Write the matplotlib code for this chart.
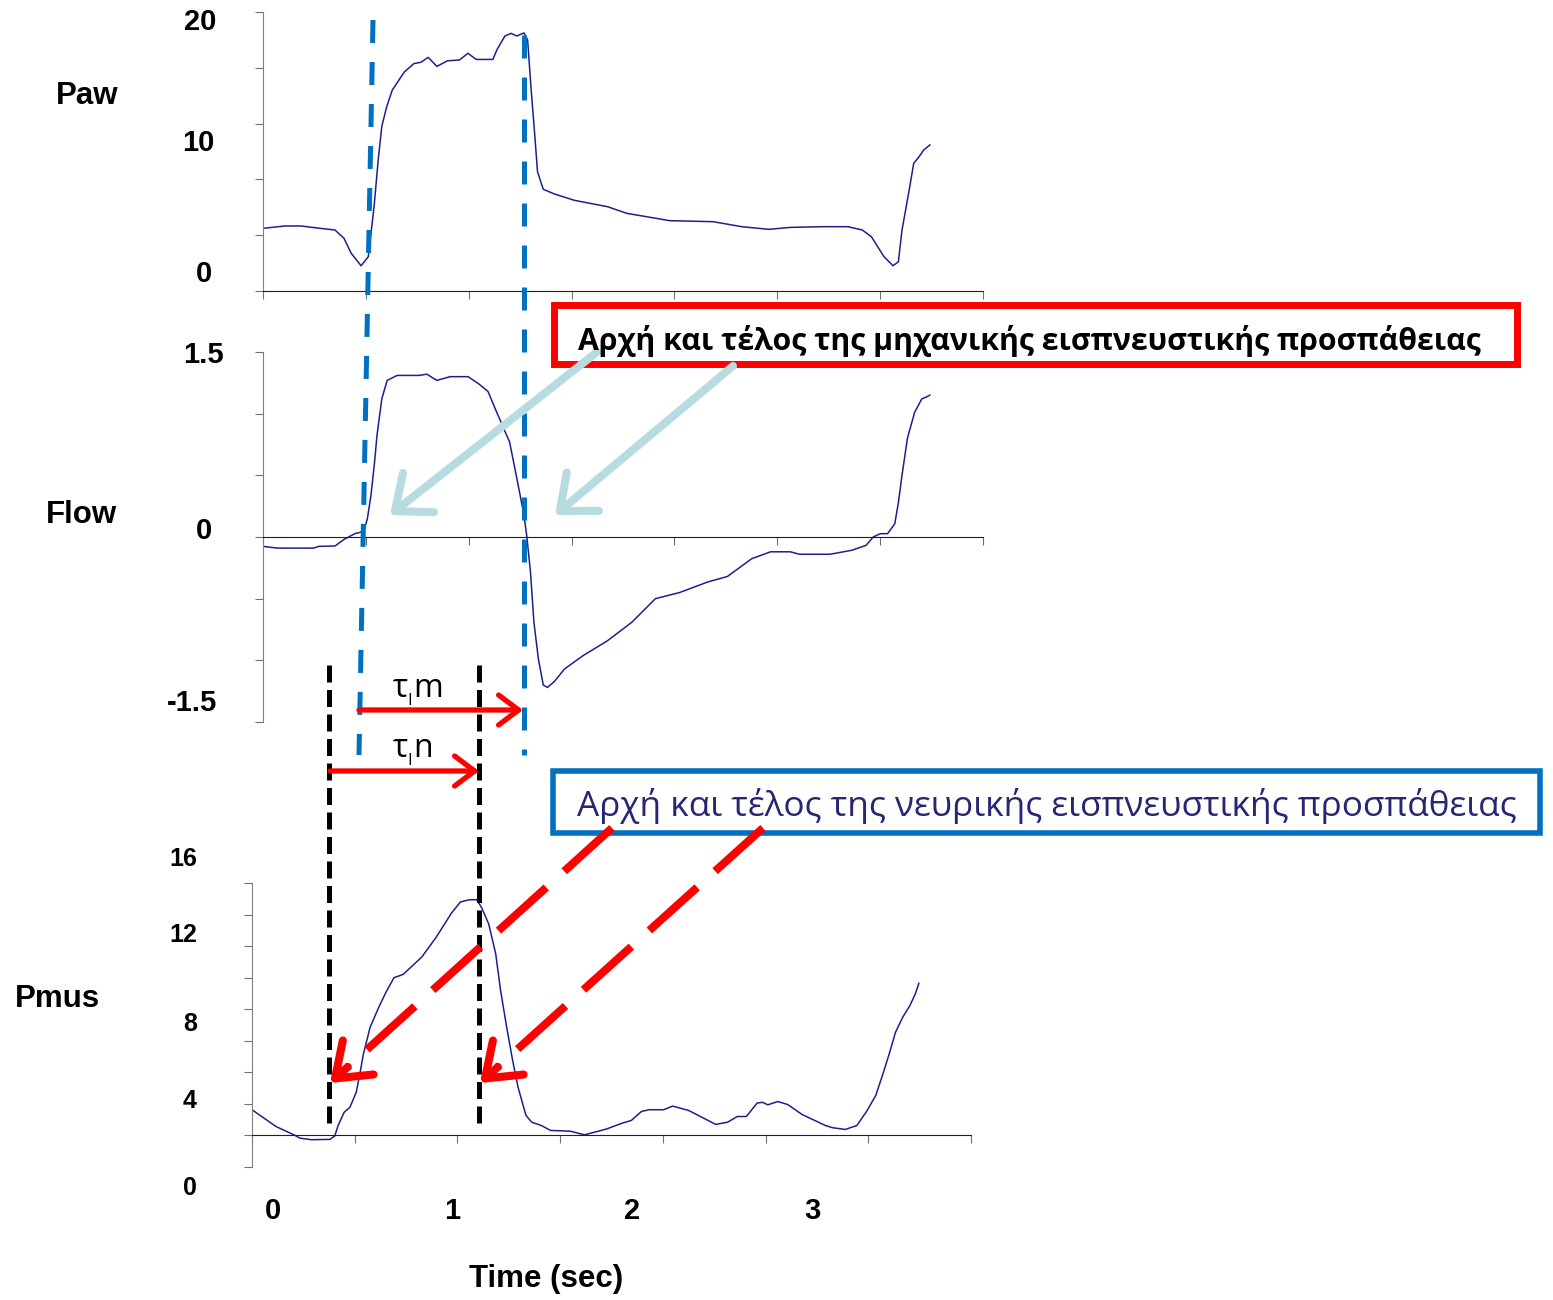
import numpy as np
import matplotlib.pyplot as plt

# ---- data (time in s, values in axis units) ----
paw_t = [0, 0.12, 0.21, 0.32, 0.40, 0.45, 0.49, 0.545, 0.585, 0.617, 0.64, 0.66, 0.687, 0.718,
         0.785, 0.838, 0.878, 0.918, 0.966, 1.024, 1.091, 1.139, 1.184, 1.277, 1.30, 1.344,
         1.378, 1.41, 1.45, 1.47, 1.49, 1.509, 1.525, 1.557, 1.62, 1.73, 1.915, 2.02, 2.26,
         2.50, 2.66, 2.81, 2.93, 3.11, 3.25, 3.33, 3.38, 3.45, 3.50, 3.53, 3.55, 3.59, 3.615,
         3.645, 3.67, 3.705]
paw_v = [4.49, 4.66, 4.66, 4.49, 4.37, 3.78, 2.70, 1.81, 2.46, 6.04, 9.39, 11.8, 13.2, 14.4,
         15.7, 16.3, 16.4, 16.75, 16.1, 16.5, 16.56, 17.04, 16.6, 16.6, 17.3, 18.28, 18.47,
         18.28, 18.5, 18.0, 14.4, 11.3, 8.55, 7.29, 6.95, 6.5, 6.04, 5.57, 5.04, 4.97, 4.61,
         4.42, 4.56, 4.61, 4.61, 4.37, 3.89, 2.46, 1.81, 2.1, 4.37, 7.24, 9.15, 9.63, 10.1,
         10.47]

flow_t = [0, 0.08, 0.28, 0.31, 0.40, 0.45, 0.51, 0.56, 0.58, 0.60, 0.62, 0.633, 0.66, 0.69,
          0.745, 0.865, 0.91, 0.966, 1.04, 1.14, 1.20, 1.25, 1.29, 1.33, 1.37, 1.40, 1.425,
          1.45, 1.465, 1.486, 1.505, 1.53, 1.557, 1.58, 1.62, 1.675, 1.78, 1.915, 2.05, 2.18,
          2.315, 2.47, 2.58, 2.715, 2.82, 2.93, 2.98, 3.15, 3.27, 3.35, 3.39, 3.43, 3.47,
          3.51, 3.53, 3.55, 3.58, 3.62, 3.66, 3.685, 3.705]
flow_v = [-0.076, -0.09, -0.09, -0.076, -0.073, -0.02, 0.027, 0.045, 0.15, 0.34, 0.61, 0.82,
          1.12, 1.27, 1.31, 1.31, 1.32, 1.27, 1.30, 1.30, 1.24, 1.18, 1.04, 0.905, 0.77, 0.55,
          0.365, 0.175, 0.013, -0.284, -0.69, -0.99, -1.20, -1.22, -1.17, -1.07, -0.96, -0.84,
          -0.69, -0.50, -0.45, -0.365, -0.32, -0.176, -0.12, -0.12, -0.14, -0.14, -0.108,
          -0.068, 0.0, 0.027, 0.027, 0.108, 0.28, 0.50, 0.80, 1.01, 1.12, 1.135, 1.15]

pmus_t = [0, 0.133, 0.24, 0.266, 0.33, 0.433, 0.46, 0.479, 0.513, 0.545, 0.58, 0.60, 0.62,
          0.657, 0.705, 0.745, 0.79, 0.84, 0.944, 1.024, 1.11, 1.16, 1.21, 1.25, 1.277, 1.317,
          1.356, 1.383, 1.417, 1.45, 1.48, 1.524, 1.556, 1.61, 1.66, 1.77, 1.85, 1.97, 2.06,
          2.11, 2.167, 2.21, 2.29, 2.34, 2.43, 2.58, 2.646, 2.70, 2.75, 2.81, 2.84, 2.87,
          2.925, 2.98, 3.06, 3.19, 3.23, 3.30, 3.365, 3.42, 3.47, 3.51, 3.545, 3.58, 3.62,
          3.66, 3.69, 3.71]
pmus_v = [1.63, 0.57, 0.0, -0.17, -0.27, -0.25, -0.04, 0.63, 1.47, 1.79, 2.74, 3.9, 5.17,
          6.85, 8.12, 9.07, 10.0, 10.2, 11.3, 12.55, 14.1, 14.8, 14.94, 14.94, 14.45, 13.4,
          11.5, 9.18, 6.85, 4.75, 3.06, 1.27, 0.84, 0.63, 0.32, 0.27, 0.04, 0.4, 0.78, 0.95,
          1.52, 1.63, 1.63, 1.86, 1.58, 0.70, 0.84, 1.2, 1.2, 2.05, 2.1, 1.94, 2.15, 1.96,
          1.33, 0.63, 0.49, 0.38, 0.63, 1.54, 2.53, 3.9, 5.17, 6.54, 7.49, 8.23, 8.97, 9.64]

panel_names = ["Paw", "Flow", "Pmus"]
paw_labels = ["20", "10", "0"]
flow_labels = ["1.5", "0", "-1.5"]
pmus_labels = ["16", "12", "8", "4", "0"]
time_labels = ["0", "1", "2", "3"]
xlabel = "Time (sec)"
box_mech = "Αρχή και τέλος της μηχανικής εισπνευστικής προσπάθειας"
box_neur = "Αρχή και τέλος της νευρικής εισπνευστικής προσπάθειας"

W, H = 1553, 1300
CURVE = "#1f1f8c"
BLUE = "#0070c0"
LIGHT = "#b6dce0"
NAVY = "#262673"
SANS = ["Liberation Sans", "DejaVu Sans"]
BOXF = ["Open Sans", "DejaVu Sans"]

fig = plt.figure(figsize=(W / 100, H / 100), dpi=100)


def px_axes(x0, y0, x1, y1):
    return fig.add_axes([x0 / W, 1 - y1 / H, (x1 - x0) / W, (y1 - y0) / H])


def style(ax, ylim, step, zero_axis):
    ax.set_xlim(0, 4)
    ax.set_ylim(*ylim)
    ax.set_xticks(np.linspace(0, 4, 8))
    ax.set_yticks(np.arange(ylim[0], ylim[1] + step / 2, step))
    ax.tick_params(labelleft=False, labelbottom=False, length=6, width=0.8,
                   color="#707070", direction="out")
    for s in ("top", "right"):
        ax.spines[s].set_visible(False)
    ax.spines["left"].set_color("#808080")
    ax.spines["bottom"].set_color("#202020")
    if zero_axis:
        ax.spines["bottom"].set_position(("data", 0))
    ax.patch.set_alpha(0)


ax1 = px_axes(263, 12, 983, 291)
style(ax1, (0, 20), 4, False)
ax1.plot(paw_t, paw_v, color=CURVE, lw=1.1)

ax2 = px_axes(263, 352, 983, 722)
style(ax2, (-1.5, 1.5), 0.5, True)
ax2.plot(flow_t, flow_v, color=CURVE, lw=1.1)

ax3 = px_axes(252, 883, 971, 1167)
style(ax3, (-2, 16), 2, True)
ax3.plot(pmus_t, pmus_v, color=CURVE, lw=1.1)

# ---- overlay in pixel coordinates for the annotations ----
ov = fig.add_axes([0, 0, 1, 1], zorder=10)
ov.set_xlim(0, W)
ov.set_ylim(H, 0)
ov.axis("off")

# panel names and floating value labels
for name, (x, y) in zip(panel_names, [(87, 96), (81, 515), (57, 999)]):
    ov.text(x, y, name, ha="center", va="center", fontsize=22.5, fontweight="bold", family=SANS)
for lab, (x, y) in zip(paw_labels, [(200, 22), (198, 143), (204, 274)]):
    ov.text(x, y, lab, ha="center", va="center", fontsize=21, fontweight="bold", family=SANS)
for lab, (x, y) in zip(flow_labels, [(203, 355), (204, 531), (192, 703)]):
    ov.text(x, y, lab, ha="center", va="center", fontsize=21, fontweight="bold", family=SANS)
for lab, (x, y) in zip(pmus_labels, [(183, 859), (183, 935), (190, 1024), (190, 1101), (190, 1188)]):
    ov.text(x, y, lab, ha="center", va="center", fontsize=18, fontweight="bold", family=SANS)
for lab, x in zip(time_labels, [273, 452, 632, 812]):
    ov.text(x, 1211, lab, ha="center", va="center", fontsize=21, fontweight="bold", family=SANS)
ov.text(546, 1279, xlabel, ha="center", va="center", fontsize=22.5, fontweight="bold", family=SANS)

# vertical timing lines
ov.plot([373, 359], [20, 755], color=BLUE, lw=3.6, ls=(0, (4.6, 3.8)), solid_capstyle="butt")
ov.plot([524, 524], [35, 755], color=BLUE, lw=3.6, ls=(0, (4.6, 3.8)), solid_capstyle="butt")
for x in (329, 479):
    ov.plot([x, x], [665, 1130], color="black", lw=3.6, ls=(0, (3.4, 1.5)))

# horizontal timing arrows
for (x0, x1, y) in [(359, 523, 710), (330, 479, 771)]:
    ov.annotate("", xy=(x1, y), xytext=(x0, y),
                arrowprops=dict(arrowstyle="->,head_length=0.6,head_width=0.45",
                                color="red", lw=3.8, mutation_scale=24,
                                shrinkA=0, shrinkB=0))
for sym, y in [("m", 697), ("n", 757)]:
    ov.text(393, y, "τ", ha="left", va="baseline", fontsize=23, family=BOXF)
    ov.text(407, y + 8, "I", ha="left", va="baseline", fontsize=12, family=BOXF)
    ov.text(413, y, sym, ha="left", va="baseline", fontsize=23, family=BOXF)


def fit_text(x, y, s, width, **kw):
    t = ov.text(x, y, s, fontsize=20, **kw)
    w = t.get_window_extent(fig.canvas.get_renderer()).width
    t.set_fontsize(20 * width / w)
    return t


# boxes
ov.add_patch(plt.Rectangle((553.5, 304.5), 963, 59.5, fill=True, fc="white",
                           ec="red", lw=5, zorder=2))
ov.add_patch(plt.Rectangle((553, 770.5), 987, 62.5, fill=True, fc="white",
                           ec=BLUE, lw=4, zorder=2))
fit_text(578, 341, box_mech, 902, ha="left", va="center", fontweight="bold",
         family=BOXF, color="black", zorder=5)
fit_text(577, 806, box_neur, 938, ha="left", va="center", family=BOXF,
         color=NAVY, zorder=5)

# light-blue arrows from the mechanical box
for (x0, y0), (x1, y1) in [((597, 352), (390, 515)), ((733, 366), (555, 515))]:
    ov.annotate("", xy=(x1, y1), xytext=(x0, y0),
                arrowprops=dict(arrowstyle="->,head_length=0.6,head_width=0.5",
                                color=LIGHT, lw=5.8, mutation_scale=36,
                                shrinkA=0, shrinkB=0), zorder=4)

# red dashed arrows from the neural box
for (x0, y0), (x1, y1) in [((612, 828), (330, 1083)), ((763, 828), (480, 1083))]:
    d = np.array([x1 - x0, y1 - y0], float)
    u = d / np.hypot(*d)
    back = np.array([x1, y1]) - 24 * u
    ov.plot([x0, back[0]], [y0, back[1]], color="red", lw=5.8,
            ls=(0, (8.0, 3.0)), solid_capstyle="butt", zorder=4)
    ov.annotate("", xy=(x1, y1), xytext=tuple(back),
                arrowprops=dict(arrowstyle="->,head_length=0.75,head_width=0.55",
                                color="red", lw=5.8, mutation_scale=30,
                                shrinkA=0, shrinkB=0), zorder=4)

fig.savefig("out.png", dpi=100, facecolor="white")
